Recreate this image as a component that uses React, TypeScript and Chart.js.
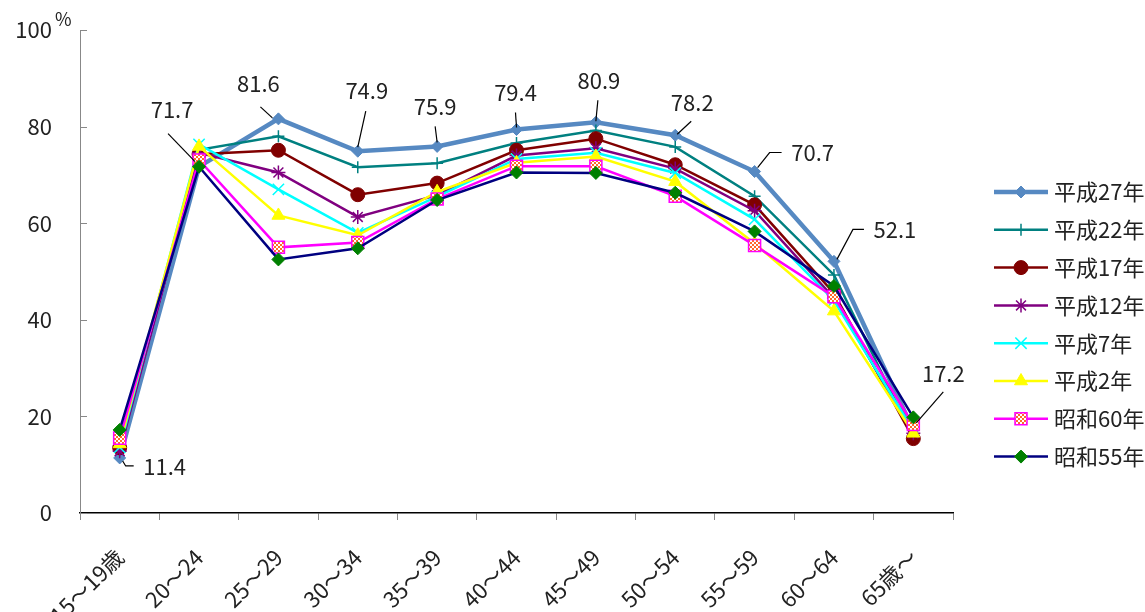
import React, { useEffect, useRef } from "react";
import { Chart, registerables } from "chart.js";
import { drawPoint } from "chart.js/helpers";

Chart.register(...registerables);

const categories = ["15～19歳", "20～24", "25～29", "30～34", "35～39", "40～44", "45～49", "50～54", "55～59", "60～64", "65歳～"];
const seriesNames = ["平成27年", "平成22年", "平成17年", "平成12年", "平成7年", "平成2年", "昭和60年", "昭和55年"];
const h27 = [11.4, 71.7, 81.6, 74.9, 75.9, 79.4, 80.9, 78.2, 70.7, 52.1, 17.2];
const h22 = [13.0, 75.2, 78.0, 71.6, 72.4, 76.6, 79.2, 75.8, 65.6, 49.3, 15.6];
const h17 = [13.5, 74.3, 75.1, 65.9, 68.3, 75.1, 77.5, 72.1, 63.8, 45.5, 15.4];
const h12 = [12.8, 74.6, 70.5, 61.3, 65.8, 74.0, 75.5, 71.3, 62.6, 44.5, 16.5];
const h7 = [13.6, 76.3, 67.0, 58.0, 65.5, 73.3, 74.6, 70.4, 60.8, 44.0, 17.0];
const h2 = [14.3, 75.9, 61.6, 57.5, 66.5, 72.5, 73.8, 68.6, 55.8, 41.8, 16.5];
const s60 = [15.5, 73.1, 55.0, 56.0, 65.0, 71.8, 71.8, 65.6, 55.4, 44.8, 18.3];
const s55 = [17.2, 71.7, 52.5, 54.8, 64.8, 70.5, 70.4, 66.3, 58.3, 47.0, 19.8];
const yTicks = [0, 20, 40, 60, 80, 100];

const FONT = '"Noto Sans CJK JP", "Noto Sans", sans-serif';

// label placement for the 平成27年 values (relative to each point)
const LABEL_LAYOUT = [
  { dx: 45, dy: 9, path: [[3, 3], [6, 8], [14, 8]] },
  { dx: -27, dy: -57, path: [[-4, -5], [-31, -33]] },
  { dx: -20, dy: -35, path: [[-6, -1], [-18, -12]] },
  { dx: 9, dy: -61, path: [[0, -4], [8, -40]] },
  { dx: -2, dy: -40, path: [[0, -4], [-2, -20]] },
  { dx: -1, dy: -37, path: [[0, -2], [-1, -17]] },
  { dx: 3, dy: -42, path: [[0, -1], [2, -22]] },
  { dx: 17, dy: -33, path: [[2, -1], [16, -14]] },
  { dx: 58, dy: -19, path: [[3, -4], [15, -19], [27, -19]] },
  { dx: 61, dy: -32, path: [[3, -2], [19, -32], [30, -32]] },
  { dx: 30, dy: -56, path: [[3, -7], [30, -38]] },
];

function makePattern(): CanvasPattern | string {
  const c = document.createElement("canvas");
  c.width = 4;
  c.height = 4;
  const g = c.getContext("2d");
  if (!g) return "#FF8040";
  g.fillStyle = "#ffffff";
  g.fillRect(0, 0, 4, 4);
  g.fillStyle = "#FF6A2A";
  g.fillRect(0, 0, 2, 2);
  g.fillRect(2, 2, 2, 2);
  const p = g.createPattern(c, "repeat");
  return p || "#FF8040";
}

const annotatePlugin = {
  id: "annot",
  afterDatasetsDraw(chart: any) {
    const meta = chart.getDatasetMeta(0);
    const ctx = chart.ctx;
    ctx.save();
    ctx.strokeStyle = "#000";
    ctx.lineWidth = 1.2;
    ctx.font = `22px ${FONT}`;
    ctx.fillStyle = "#222";
    ctx.textAlign = "center";
    ctx.textBaseline = "middle";
    LABEL_LAYOUT.forEach((l, i) => {
      const pt = meta.data[i];
      if (!pt) return;
      const x = pt.x;
      const y = pt.y;
      ctx.beginPath();
      l.path.forEach(([dx, dy], k) => {
        if (k === 0) ctx.moveTo(x + dx, y + dy);
        else ctx.lineTo(x + dx, y + dy);
      });
      ctx.stroke();
      ctx.fillText(h27[i].toFixed(1), x + l.dx, y + l.dy);
    });
    ctx.restore();
  },
};

const axisExtrasPlugin = {
  id: "axisExtras",
  afterDraw(chart: any) {
    const ctx = chart.ctx;
    const ys = chart.scales.y;
    const left = chart.chartArea.left;
    ctx.save();
    ctx.strokeStyle = "#888";
    ctx.lineWidth = 1;
    yTicks.forEach((v) => {
      const py = Math.round(ys.getPixelForValue(v)) + 0.5;
      ctx.beginPath();
      ctx.moveTo(left, py);
      ctx.lineTo(left + 7, py);
      ctx.stroke();
    });
    ctx.fillStyle = "#222";
    ctx.font = `18px ${FONT}`;
    ctx.textAlign = "left";
    ctx.textBaseline = "top";
    ctx.fillText("%", 55, 10);
    ctx.restore();
  },
};

const legendPlugin = {
  id: "customLegend",
  afterDraw(chart: any) {
    const ctx = chart.ctx;
    ctx.save();
    chart.data.datasets.forEach((ds: any, i: number) => {
      const y = 192 + 37.8 * i;
      ctx.strokeStyle = ds.borderColor;
      ctx.lineWidth = ds.borderWidth;
      ctx.beginPath();
      ctx.moveTo(994, y);
      ctx.lineTo(1048, y);
      ctx.stroke();
      ctx.fillStyle = ds.pointBackgroundColor;
      ctx.strokeStyle = ds.pointBorderColor;
      ctx.lineWidth = ds.pointBorderWidth;
      drawPoint(ctx, { pointStyle: ds.pointStyle, radius: ds.pointRadius, rotation: 0, borderWidth: ds.pointBorderWidth }, 1021, y);
      ctx.fillStyle = "#222";
      ctx.font = `22px ${FONT}`;
      ctx.textAlign = "left";
      ctx.textBaseline = "middle";
      ctx.fillText(ds.label, 1054, y);
    });
    ctx.restore();
  },
};

export default function App() {
  const ref = useRef<HTMLCanvasElement>(null);
  useEffect(() => {
    if (!ref.current) return;
    const pattern = makePattern();
    const mk = (i: number, data: number[], color: string, width: number, style: string, radius: number, bg: any, border: string, bw: number) => ({
      label: seriesNames[i],
      data,
      borderColor: color,
      borderWidth: width,
      pointStyle: style,
      pointRadius: radius,
      pointBackgroundColor: bg,
      pointBorderColor: border,
      pointBorderWidth: bw,
      tension: 0,
      fill: false,
      order: 7 - i,
    });
    const chart = new Chart(ref.current, {
      type: "line",
      data: {
        labels: categories,
        datasets: [
          mk(0, h27, "#5689C2", 4.5, "rectRot", 6, "#5689C2", "#5689C2", 1),
          mk(1, h22, "#008080", 2.5, "cross", 6, "#008080", "#008080", 1.5),
          mk(2, h17, "#800000", 2.5, "circle", 7, "#800000", "#800000", 1),
          mk(3, h12, "#800080", 2.5, "star", 7, "#800080", "#800080", 1.5),
          mk(4, h7, "#00FFFF", 2.5, "crossRot", 8, "#00FFFF", "#00FFFF", 1.5),
          mk(5, h2, "#FFFF00", 2.5, "triangle", 7.5, "#FFFF00", "#FFFF00", 1),
          mk(6, s60, "#FF00FF", 2.5, "rect", 8.5, pattern, "#FF00FF", 1.5),
          mk(7, s55, "#000080", 2.5, "rectRot", 6.5, "#008000", "#008000", 1),
        ] as any,
      },
      options: {
        responsive: false,
        animation: false,
        layout: { padding: { left: 0, top: 30, right: 192, bottom: 0 } },
        plugins: { legend: { display: false }, tooltip: { enabled: false } },
        scales: {
          x: {
            type: "category",
            offset: true,
            grid: { display: true, drawOnChartArea: false, drawTicks: true, tickLength: 7, color: "#888", offset: true },
            border: { display: true, color: "#000", width: 1.5 },
            ticks: { autoSkip: false, maxRotation: 45, minRotation: 45, color: "#222", font: { family: FONT, size: 22 }, padding: 24 },
            afterFit: (s: any) => {
              s.height = 99;
              s.paddingLeft = 0;
              s.paddingRight = 0;
            },
          },
          y: {
            min: 0,
            max: 100,
            afterBuildTicks: (s: any) => {
              s.ticks = yTicks.map((v) => ({ value: v }));
            },
            grid: { display: false, drawTicks: false },
            border: { display: true, color: "#888", width: 1 },
            ticks: { color: "#222", font: { family: FONT, size: 22 }, padding: 28 },
            afterFit: (s: any) => {
              s.width = 80;
              s.paddingTop = 0;
              s.paddingBottom = 0;
            },
          },
        },
      } as any,
      plugins: [annotatePlugin, axisExtrasPlugin, legendPlugin],
    });
    return () => chart.destroy();
  }, []);
  return (
    <div style={{ position: "fixed", left: 0, top: 0, width: 1145, height: 612, background: "#fff" }}>
      <canvas ref={ref} width={1145} height={612} />
    </div>
  );
}
